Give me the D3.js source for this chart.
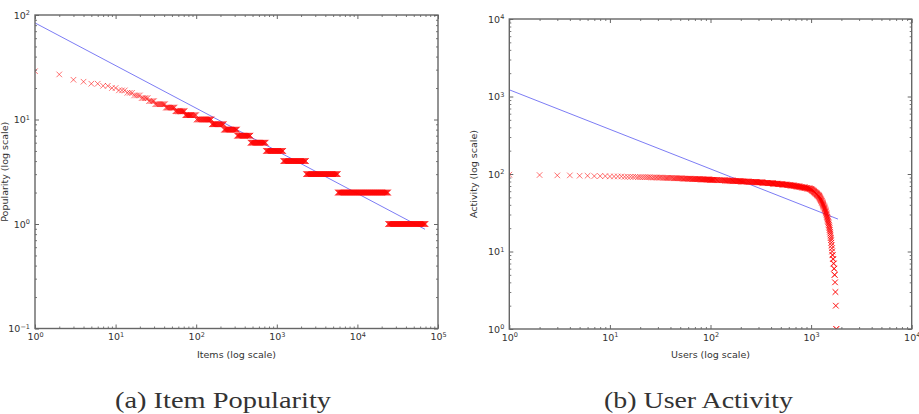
<!DOCTYPE html>
<html>
<head>
<meta charset="utf-8">
<script src="https://cdn.jsdelivr.net/npm/d3@7"></script>
<style>
    body { margin: 0; background: #ffffff; }
    svg { display: block; }
</style>
</head>
<body>
<svg id="figure"></svg>
<script>
/*--------------------------------------------------------------------------------
----- DATA
--------------------------------------------------------------------------------*/

// Item popularity: distinct popularity values (high to low) and number of items with each value
const item_popularity_levels = [29, 27, 24, 23, 22, 21, 20, 19, 18, 17, 16, 15, 14, 13, 12, 11, 10, 9, 8, 7, 6, 5, 4, 3, 2, 1];
const item_counts = [1, 1, 1, 1, 2, 2, 2, 3, 3, 4, 5, 5, 11, 13, 18, 28, 55, 65, 100, 150, 260, 470, 1100, 3400, 18300, 46000];

// Power-law fit for the item popularity (two end points, log-log straight line)
const item_fit_x = [1, 69000];
const item_fit_y = [84, 0.89];

// User activity: distinct activity values (high to low) and number of users with each value
const user_activity_levels = [98, 97, 96, 95, 94, 93, 92, 91, 90, 89, 88, 87, 86, 85, 84, 83, 82, 81, 80, 79,
    78, 77, 76, 75, 74, 73, 72, 71, 70, 69, 68, 67, 66, 65, 64, 63, 62, 61, 60, 59,
    58, 57, 56, 55, 54, 53, 52, 51, 50, 49, 48, 47, 46, 45, 44, 43, 42, 41, 40, 39,
    38, 37, 36, 35, 34, 33, 32, 31, 30, 29, 28, 27, 26, 25, 24, 23, 22, 21, 20, 19,
    18, 17, 16, 15, 14, 13, 12, 11, 10, 9, 8, 7, 6, 5, 4, 3, 2, 1];
const user_counts = [1, 1, 2, 2, 3, 4, 5, 7, 8, 9, 10, 12, 15, 18, 19, 23, 28, 33, 39, 44,
    44, 44, 46, 49, 52, 55, 52, 48, 45, 45, 48, 50, 52, 50, 34, 17, 16, 17, 17, 17,
    16, 17, 17, 16, 17, 17, 16, 11, 10, 11, 10, 11, 10, 11, 11, 10, 11, 10, 11, 11,
    10, 11, 10, 11, 10, 10, 10, 10, 10, 10, 10, 10, 10, 10, 10, 10, 10, 10, 10, 9,
    10, 9, 10, 9, 10, 9, 10, 9, 10, 20, 20, 20, 20, 20, 15, 15, 15, 20];

// Power-law fit for the user activity
const user_fit_x = [1, 1850];
const user_fit_y = [1220, 26.2];

// Tick labels (powers of ten) for each axis
const item_x_exponents = [0, 1, 2, 3, 4, 5];
const item_y_exponents = [-1, 0, 1, 2];
const user_x_exponents = [0, 1, 2, 3, 4];
const user_y_exponents = [0, 1, 2, 3, 4];

/*--------------------------------------------------------------------------------
----- DRAWING
--------------------------------------------------------------------------------*/

const fig_width = 919, fig_height = 414;
const tick_font = "'DejaVu Sans', sans-serif";

const svg = d3.select("#figure")
    .attr("width", fig_width)
    .attr("height", fig_height);

// Turn a list of (level, count) pairs into ranked points, skipping ranks that land on the same pixel
function expand_ranked_points(levels, counts, x_scale) {
    const points = [];
    let rank = 0;
    for (let i = 0; i < levels.length; i++) {
        const first = rank + 1, last = rank + counts[i];
        let last_px = -Infinity;
        for (let r = first; r <= last; r++) {
            const px = x_scale(r);
            if (px - last_px >= 0.4 || r === last) {
                points.push({ x: r, y: levels[i] });
                last_px = px;
            }
        }
        rank = last;
    }
    return points;
}

// Write "10" with a superscript exponent into every tick label
function power_labels(axis_group) {
    axis_group.selectAll(".tick text").each(function (d) {
        const exponent = Math.round(Math.log10(d));
        const label = d3.select(this).text("10");
        label.append("tspan")
            .attr("dy", "-0.5em")
            .attr("font-size", "6.5px")
            .text(exponent < 0 ? "\u2212" + (-exponent) : exponent);
    });
}

// Minor ticks 2..9 inside each decade
function minor_ticks(exponents) {
    const ticks = [];
    for (let i = 0; i < exponents.length - 1; i++) {
        for (let m = 2; m <= 9; m++) ticks.push(m * Math.pow(10, exponents[i]));
    }
    return ticks;
}

function draw_panel(panel) {
    // Scales of the panel
    const x_scale = d3.scaleLog()
        .domain([Math.pow(10, panel.x_exp[0]), Math.pow(10, panel.x_exp[panel.x_exp.length - 1])])
        .range([panel.left, panel.right]);
    const y_scale = d3.scaleLog()
        .domain([Math.pow(10, panel.y_exp[0]), Math.pow(10, panel.y_exp[panel.y_exp.length - 1])])
        .range([panel.bottom, panel.top]);

    // Clip marks to the axes box
    svg.append("clipPath")
        .attr("id", "clip-" + panel.id)
        .append("rect")
        .attr("x", panel.left)
        .attr("y", panel.top)
        .attr("width", panel.right - panel.left)
        .attr("height", panel.bottom - panel.top);

    const plot = svg.append("g").attr("clip-path", `url(#clip-${panel.id})`);

    // Fitted power-law line
    const line = d3.line().x(d => x_scale(d[0])).y(d => y_scale(d[1]));
    plot.append("path")
        .datum(d3.zip(panel.fit_x, panel.fit_y))
        .attr("d", line)
        .attr("fill", "none")
        .attr("stroke", "#4545f0")
        .attr("stroke-opacity", 0.7)
        .attr("stroke-width", 1);

    // Ranked "x" markers
    const points = expand_ranked_points(panel.levels, panel.counts, x_scale);
    const marker = d3.symbol().type(d3.symbolX).size(22);
    plot.append("g")
        .selectAll("path")
        .data(points)
        .join("path")
        .attr("transform", d => `translate(${x_scale(d.x)},${y_scale(d.y)})`)
        .attr("d", marker)
        .attr("fill", "none")
        .attr("stroke", "#ff0000")
        .attr("stroke-opacity", 0.55)
        .attr("stroke-width", 1);

    // Ticks on all four sides, pointing inwards
    const x_major = panel.x_exp.map(e => Math.pow(10, e));
    const y_major = panel.y_exp.map(e => Math.pow(10, e));
    const x_minor = minor_ticks(panel.x_exp);
    const y_minor = minor_ticks(panel.y_exp);
    const sides = [
        { axis: d3.axisBottom(x_scale), at: `translate(0,${panel.bottom})`, major: x_major, minor: x_minor, labels: true },
        { axis: d3.axisTop(x_scale), at: `translate(0,${panel.top})`, major: x_major, minor: x_minor, labels: false },
        { axis: d3.axisLeft(y_scale), at: `translate(${panel.left},0)`, major: y_major, minor: y_minor, labels: true },
        { axis: d3.axisRight(y_scale), at: `translate(${panel.right},0)`, major: y_major, minor: y_minor, labels: false }
    ];
    sides.forEach(side => {
        const minor_g = svg.append("g")
            .attr("transform", side.at)
            .call(side.axis.tickValues(side.minor).tickSize(-2).tickFormat(""));
        minor_g.select(".domain").remove();
        minor_g.selectAll(".tick line").attr("stroke", "#555").attr("stroke-width", 0.8);

        const major_g = svg.append("g")
            .attr("transform", side.at)
            .call(side.axis.tickValues(side.major).tickSize(-4).tickPadding(side.labels ? 5 : 0)
                .tickFormat(side.labels ? (() => "10") : ""));
        major_g.select(".domain").remove();
        major_g.selectAll(".tick line").attr("stroke", "#555").attr("stroke-width", 0.9);
        major_g.attr("font-family", tick_font).attr("font-size", 9.5);
        major_g.selectAll(".tick text").attr("fill", "#333");
        if (side.labels) power_labels(major_g);
    });

    // Axes frame
    svg.append("rect")
        .attr("x", panel.left)
        .attr("y", panel.top)
        .attr("width", panel.right - panel.left)
        .attr("height", panel.bottom - panel.top)
        .attr("fill", "none")
        .attr("stroke", "#666")
        .attr("stroke-width", 1.4);

    // Axis titles
    svg.append("text")
        .attr("x", (panel.left + panel.right) / 2)
        .attr("y", 358)
        .attr("text-anchor", "middle")
        .attr("font-family", tick_font)
        .attr("font-size", 9.5)
        .attr("fill", "#333")
        .text(panel.x_title);
    svg.append("text")
        .attr("transform", `translate(${panel.y_title_x},${(panel.top + panel.bottom) / 2}) rotate(-90)`)
        .attr("text-anchor", "middle")
        .attr("font-family", tick_font)
        .attr("font-size", 9.5)
        .attr("fill", "#333")
        .text(panel.y_title);

    // Caption under the panel
    svg.append("text")
        .attr("x", panel.caption_x)
        .attr("y", 408)
        .attr("font-family", "'Liberation Serif', serif")
        .attr("font-size", 23)
        .attr("textLength", panel.caption_width)
        .attr("lengthAdjust", "spacingAndGlyphs")
        .attr("fill", "#333")
        .text(panel.caption);
}

// Left panel: item popularity
draw_panel({
    id: "items",
    left: 35, right: 438, top: 15, bottom: 328.5,
    x_exp: item_x_exponents, y_exp: item_y_exponents,
    levels: item_popularity_levels, counts: item_counts,
    fit_x: item_fit_x, fit_y: item_fit_y,
    x_title: "Items (log scale)", y_title: "Popularity (log scale)", y_title_x: 8,
    caption: "(a) Item Popularity", caption_x: 115, caption_width: 216
});

// Right panel: user activity
draw_panel({
    id: "users",
    left: 509.3, right: 911.7, top: 19, bottom: 329,
    x_exp: user_x_exponents, y_exp: user_y_exponents,
    levels: user_activity_levels, counts: user_counts,
    fit_x: user_fit_x, fit_y: user_fit_y,
    x_title: "Users (log scale)", y_title: "Activity (log scale)", y_title_x: 477,
    caption: "(b) User Activity", caption_x: 604, caption_width: 189
});
</script>
</body>
</html>
